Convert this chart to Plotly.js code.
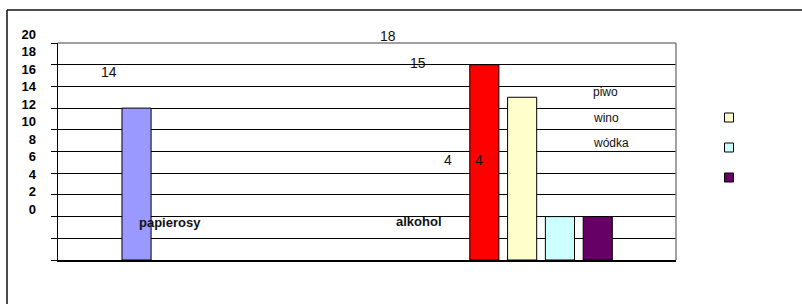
<!DOCTYPE html>
<html>
<head>
<meta charset="utf-8">
<script src="https://cdn.plot.ly/plotly-3.0.1.min.js"></script>
<style>html,body{margin:0;padding:0;background:#fff;}#chart{width:802px;height:304px;}</style>
</head>
<body>
<div id="chart"></div>
<script>
// ---- data ----
const categories = ['papierosy', 'alkohol', 'piwo', 'wino', 'wódka'];
const values = [14, 18, 15, 4, 4];
const barColors = ['#9999FF', '#FF0000', '#FFFFCC', '#CCFFFF', '#660066'];
const dataLabels = ['14', '18', '15', '4', '4'];
const seriesNames = ['piwo', 'wino', 'wódka'];
const legendColors = ['#FFFFCC', '#CCFFFF', '#660066'];
const yTickValues = [0, 2, 4, 6, 8, 10, 12, 14, 16, 18, 20];
const yTickLabels = ['0', '2', '4', '6', '8', '10', '12', '14', '16', '18', '20'];

// ---- layout geometry (pixels) ----
const W = 802, H = 304;
const M = {l: 30, r: 126, t: 30, b: 44};
const PW = W - M.l - M.r, PH = H - M.t - M.b;
const xp = px => (px - M.l) / PW;
const yp = py => (H - M.b - py) / PH;
const slot = [0, 9.2, 10.2, 11.2, 12.2];
const FONT = 'Liberation Sans, Arial, sans-serif';

const traces = [{
  type: 'bar', x: slot, y: values, width: 0.77,
  marker: {color: barColors, line: {color: '#000', width: 1}},
  showlegend: false, hoverinfo: 'skip'
}, {
  type: 'scatter', x: [null], y: [null], xaxis: 'x', yaxis: 'y2',
  showlegend: false, hoverinfo: 'skip'
}];
seriesNames.forEach((n, i) => traces.push({
  type: 'scatter', mode: 'markers', x: [null], y: [null], name: ' ',
  legendgroup: n,
  marker: {symbol: 'square', size: 9, color: legendColors[i], line: {color: '#000', width: 1}}
}));

const ann = [];
const lab = (t, px, py, size, bold, anchor) => ann.push({
  xref: 'paper', yref: 'paper', x: xp(px), y: yp(py), text: bold ? '<b>' + t + '</b>' : t,
  showarrow: false, xanchor: anchor || 'center', yanchor: 'middle',
  font: {family: FONT, size: size, color: '#111'}
});
lab(dataLabels[0], 109, 72, 14);
lab(dataLabels[1], 388, 36, 14);
lab(dataLabels[2], 418, 63, 14);
lab(dataLabels[3], 448, 160, 14);
lab(dataLabels[4], 479, 160, 14);
lab(categories[0], 170, 222, 13, true);
lab(categories[1], 419, 221, 13, true);
lab(categories[2], 591, 92, 12, false, 'left');
lab(categories[3], 591, 118, 12, false, 'left');
lab(categories[4], 591, 143, 12, false, 'left');

const layout = {
  width: W, height: H, margin: M,
  paper_bgcolor: '#fff', plot_bgcolor: 'rgba(0,0,0,0)',
  font: {family: FONT, color: '#000'},
  xaxis: {range: [-2.077, 14.27], domain: [xp(58), 1], showgrid: false, zeroline: false,
          showticklabels: false, ticks: '', showline: true, linecolor: '#000', linewidth: 1.5, fixedrange: true},
  yaxis: {range: [0, 20], domain: [0, yp(43)], tickvals: yTickValues, showticklabels: false,
          showgrid: true, gridcolor: '#000', gridwidth: 1, zeroline: false,
          ticks: 'outside', ticklen: 6, tickcolor: '#000', tickwidth: 1,
          showline: true, linecolor: '#000', linewidth: 1.5, fixedrange: true},
  yaxis2: {range: [0, 20], domain: [yp(209), yp(34)], anchor: 'free', position: xp(36), side: 'left',
           tickvals: yTickValues, ticktext: yTickLabels, ticks: '', showgrid: false, zeroline: false,
           showline: false, tickfont: {family: FONT, size: 13, color: '#000', weight: 'bold'}, fixedrange: true},
  showlegend: true,
  legend: {x: xp(709), y: yp(103), xanchor: 'left', yanchor: 'top', tracegroupgap: 11,
           font: {family: FONT, size: 12}, bgcolor: 'rgba(0,0,0,0)'},
  annotations: ann,
  shapes: [
    {type: 'line', xref: 'paper', yref: 'paper', x0: xp(58), x1: xp(676), y0: yp(43), y1: yp(43),
     line: {color: '#808080', width: 1.5}, layer: 'above'},
    {type: 'line', xref: 'paper', yref: 'paper', x0: xp(676), x1: xp(676), y0: yp(43), y1: yp(260),
     line: {color: '#808080', width: 1.5}, layer: 'above'},
    {type: 'line', xref: 'paper', yref: 'paper', x0: xp(7), x1: xp(810), y0: yp(10), y1: yp(10),
     line: {color: '#111', width: 1.5}},
    {type: 'line', xref: 'paper', yref: 'paper', x0: xp(7), x1: xp(7), y0: yp(10), y1: yp(310),
     line: {color: '#111', width: 1.5}}
  ]
};
Plotly.newPlot('chart', traces, layout, {displayModeBar: false, staticPlot: true});
</script>
</body>
</html>
